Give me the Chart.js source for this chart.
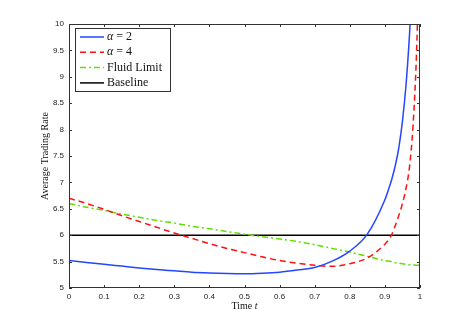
<!DOCTYPE html>
<html>
<head>
<meta charset="utf-8">
<script src="https://cdn.jsdelivr.net/npm/chart.js@4/dist/chart.umd.min.js"></script>
<style>
  html, body { margin: 0; padding: 0; background: #fff; }
  #wrap { width: 464px; height: 324px; }
</style>
</head>
<body>
<div id="wrap"><canvas id="myChart" width="464" height="324"></canvas></div>
<script>
// time grid (denser near t = 1 where the curves blow up)
const times = [0, 0.05, 0.1, 0.15, 0.2, 0.25, 0.3, 0.35, 0.4, 0.45, 0.5, 0.55, 0.6, 0.65,
  0.7, 0.75, 0.8, 0.85, 0.9, 0.91, 0.92, 0.93, 0.94, 0.95, 0.96, 0.97, 0.98, 0.99, 1];

const alpha2 = [5.52, 5.485, 5.45, 5.415, 5.38, 5.35, 5.325, 5.30, 5.285, 5.275, 5.27, 5.28, 5.30, 5.34,
  5.39, 5.51, 5.70, 6.02, 6.67, 6.86, 7.07, 7.33, 7.67, 8.16, 8.83, 9.79, 11.1, 13.0, 15.7];
const alpha4 = [6.70, 6.60, 6.49, 6.37, 6.26, 6.15, 6.04, 5.94, 5.84, 5.75, 5.67, 5.59, 5.52, 5.47,
  5.43, 5.41, 5.46, 5.57, 5.83, 5.91, 6.02, 6.19, 6.38, 6.60, 6.88, 7.29, 8.06, 9.43, 11.9];
const fluid = [6.60, 6.53, 6.47, 6.40, 6.34, 6.28, 6.23, 6.17, 6.12, 6.07, 6.02, 5.97, 5.93, 5.88,
  5.82, 5.75, 5.68, 5.60, 5.52, 5.51, 5.50, 5.48, 5.47, 5.46, 5.45, 5.44, 5.44, 5.43, 5.43];
const baseline = times.map(() => 6);

const seriesNames = ['\u03b1 = 2', '\u03b1 = 4', 'Fluid Limit', 'Baseline'];
const xTicks = [0, 0.1, 0.2, 0.3, 0.4, 0.5, 0.6, 0.7, 0.8, 0.9, 1];
const yTicks = [5, 5.5, 6, 6.5, 7, 7.5, 8, 8.5, 9, 9.5, 10];

const toPoints = arr => arr.map((v, i) => ({x: times[i], y: v}));

const tickFont = {family: 'Liberation Sans', size: 8};
const serif = '"Liberation Serif", serif';

// matlab-like box, inward ticks, legend and axis labels
const matlabFrame = {
  id: 'matlabFrame',
  afterDatasetsDraw(chart) {
    const ctx = chart.ctx;
    const a = chart.chartArea;
    const xs = chart.scales.x, ys = chart.scales.y;
    ctx.save();
    ctx.strokeStyle = '#333';
    ctx.lineWidth = 1;
    ctx.strokeRect(a.left + 0.5, a.top + 0.5, a.right - a.left - 1, a.bottom - a.top - 1);
    ctx.beginPath();
    xTicks.forEach(v => {
      const px = Math.round(xs.getPixelForValue(v)) + 0.5;
      ctx.moveTo(px, a.bottom); ctx.lineTo(px, a.bottom - 3);
      ctx.moveTo(px, a.top); ctx.lineTo(px, a.top + 3);
    });
    yTicks.forEach(v => {
      const py = Math.round(ys.getPixelForValue(v)) + 0.5;
      ctx.moveTo(a.left, py); ctx.lineTo(a.left + 3, py);
      ctx.moveTo(a.right, py); ctx.lineTo(a.right - 3, py);
    });
    ctx.stroke();

    // legend
    const lx = a.left + 6, ly = a.top + 4, lw = 95, lh = 63;
    ctx.fillStyle = '#fff';
    ctx.fillRect(lx, ly, lw, lh);
    ctx.strokeStyle = '#333';
    ctx.strokeRect(lx + 0.5, ly + 0.5, lw, lh);
    chart.data.datasets.forEach((ds, i) => {
      const y = ly + 9 + i * 15.3;
      ctx.beginPath();
      ctx.strokeStyle = ds.borderColor;
      ctx.lineWidth = ds.borderWidth;
      ctx.setLineDash(ds.borderDash || []);
      ctx.moveTo(lx + 5, y); ctx.lineTo(lx + 29, y);
      ctx.stroke();
      ctx.setLineDash([]);
      ctx.fillStyle = '#111';
      ctx.textBaseline = 'middle';
      ctx.textAlign = 'left';
      const name = seriesNames[i];
      let tx = lx + 32;
      if (name.startsWith('\u03b1')) {
        ctx.font = 'italic 12px ' + serif;
        ctx.fillText('\u03b1', tx, y);
        tx += ctx.measureText('\u03b1').width;
        ctx.font = '12px ' + serif;
        ctx.fillText(name.slice(1), tx, y);
      } else {
        ctx.font = '12px ' + serif;
        ctx.fillText(name, tx, y);
      }
    });

    // axis titles
    ctx.fillStyle = '#111';
    ctx.font = '10px ' + serif;
    ctx.textBaseline = 'middle';
    const cx = (a.left + a.right) / 2;
    const w1 = ctx.measureText('Time ').width;
    ctx.font = 'italic 10px ' + serif;
    const w2 = ctx.measureText('t').width;
    ctx.textAlign = 'left';
    ctx.font = '10px ' + serif;
    ctx.fillText('Time ', cx - (w1 + w2) / 2, 306);
    ctx.font = 'italic 10px ' + serif;
    ctx.fillText('t', cx - (w1 + w2) / 2 + w1, 306);

    ctx.translate(45, (a.top + a.bottom) / 2);
    ctx.rotate(-Math.PI / 2);
    ctx.textAlign = 'center';
    ctx.font = '10px ' + serif;
    ctx.fillText('Average Trading Rate', 0, 0);
    ctx.restore();
  }
};

const config = {
  type: 'line',
  data: {
    datasets: [{
      label: seriesNames[0],
      data: toPoints(alpha2),
      borderColor: '#2546ff',
      borderWidth: 1.5,
      pointRadius: 0,
      cubicInterpolationMode: 'monotone'
    }, {
      label: seriesNames[1],
      data: toPoints(alpha4),
      borderColor: '#ff1010',
      borderWidth: 1.5,
      borderDash: [6, 4],
      pointRadius: 0,
      cubicInterpolationMode: 'monotone'
    }, {
      label: seriesNames[2],
      data: toPoints(fluid),
      borderColor: '#5fe000',
      borderWidth: 1.5,
      borderDash: [6, 3, 2, 3],
      pointRadius: 0,
      cubicInterpolationMode: 'monotone'
    }, {
      label: seriesNames[3],
      data: toPoints(baseline),
      borderColor: '#000',
      borderWidth: 1.5,
      pointRadius: 0
    }]
  },
  options: {
    responsive: false,
    animation: false,
    layout: {padding: {left: 0, right: 44, top: 24, bottom: 0}},
    plugins: {
      legend: {display: false},
      tooltip: {enabled: false}
    },
    scales: {
      x: {
        type: 'linear',
        min: 0,
        max: 1,
        grid: {display: false, drawTicks: false},
        border: {display: false},
        afterBuildTicks: s => { s.ticks = xTicks.map(v => ({value: v})); },
        afterFit: s => { s.height = 36; },
        ticks: {
          font: tickFont,
          color: '#222',
          padding: 4,
          maxRotation: 0,
          callback: v => String(v)
        }
      },
      y: {
        min: 5,
        max: 10,
        grid: {display: false, drawTicks: false},
        border: {display: false},
        afterBuildTicks: s => { s.ticks = yTicks.map(v => ({value: v})); },
        afterFit: s => { s.width = 69; },
        ticks: {
          font: tickFont,
          color: '#222',
          padding: 5,
          callback: v => String(v)
        }
      }
    }
  },
  plugins: [matlabFrame]
};

const myChart = new Chart(document.getElementById('myChart'), config);
</script>
</body>
</html>
